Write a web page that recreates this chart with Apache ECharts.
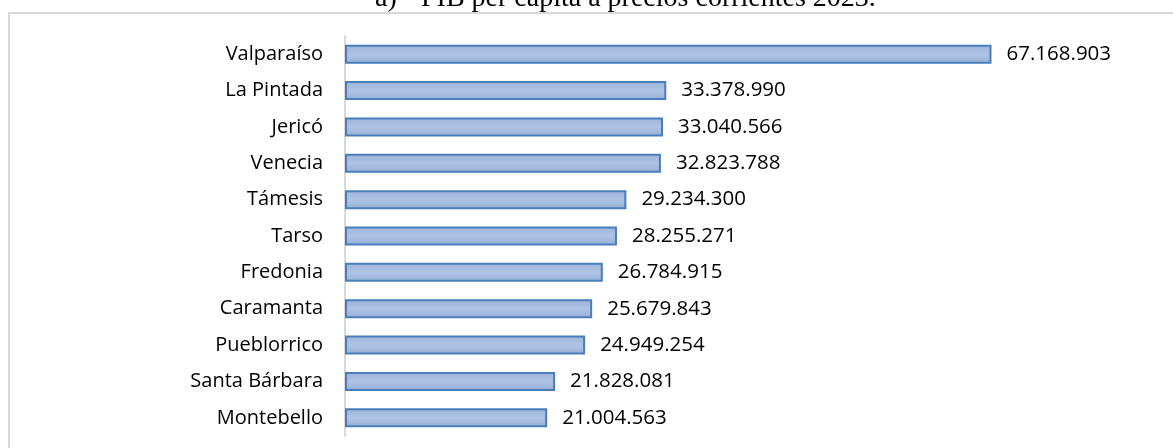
<!DOCTYPE html>
<html>
<head>
<meta charset="utf-8">
<script src="https://cdn.jsdelivr.net/npm/echarts@6/dist/echarts.min.js"></script>
<style>
html,body{margin:0;padding:0;background:#fff;}
#c{width:1173px;height:448px;}
</style>
</head>
<body>
<div id="c"></div>
<script>
const categories = ["Valparaíso","La Pintada","Jericó","Venecia","Támesis","Tarso","Fredonia","Caramanta","Pueblorrico","Santa Bárbara","Montebello"];
const values = [67168903,33378990,33040566,32823788,29234300,28255271,26784915,25679843,24949254,21828081,21004563];
const titlePrefix = "a)";
const titleText = "PIB per cápita a precios corrientes 2023.";

function fmt(v){ return String(v).replace(/\B(?=(\d{3})+(?!\d))/g, "."); }

const chart = echarts.init(document.getElementById('c'));
chart.setOption({
  animation:false,
  backgroundColor:'#fff',
  grid:{left:345, top:36, height:400, width:770},
  xAxis:{type:'value', min:0, max:80000000, show:false},
  yAxis:{
    type:'category', data:categories, inverse:true,
    axisLine:{show:true, lineStyle:{color:'#d9d9d9', width:2}},
    axisTick:{show:false},
    axisLabel:{color:'#000', fontFamily:'Open Sans', fontSize:20, margin:22}
  },
  series:[{
    type:'bar', data:values, barWidth:19,
    itemStyle:{
      borderColor:'#4a7ebb', borderWidth:2,
      color:new echarts.graphic.LinearGradient(0,0,0,1,[
        {offset:0,color:'#9cb3d9'},{offset:0.5,color:'#aec3e4'},{offset:1,color:'#97afd7'}
      ])
    },
    label:{show:true, position:'right', distance:15, color:'#000', fontFamily:'Open Sans', fontSize:20.5,
      formatter:p=>fmt(p.value)}
  }],
  graphic:[
    {type:'rect', shape:{x:9,y:13,width:1300,height:600}, style:{fill:'none', stroke:'#d9d9d9', lineWidth:2}, z:-1},
    {type:'text', x:375, y:-1, style:{text:titlePrefix, font:'28px "Liberation Serif"', fill:'#000', verticalAlign:'middle'}},
    {type:'text', x:421, y:-1, style:{text:titleText, font:'28px "Liberation Serif"', fill:'#000', verticalAlign:'middle'}}
  ]
});
</script>
</body>
</html>
